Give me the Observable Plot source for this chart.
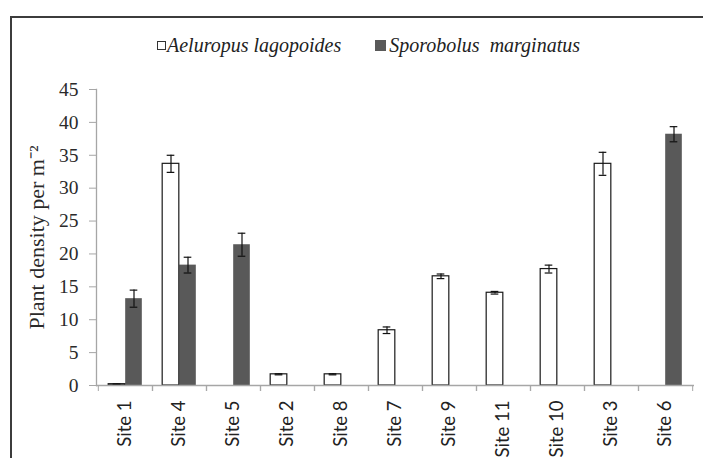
<!DOCTYPE html>
<html>
<head>
<meta charset="utf-8">
<script src="https://cdn.jsdelivr.net/npm/d3@7"></script>
<script src="https://cdn.jsdelivr.net/npm/@observablehq/plot@0.6"></script>
<style>
  html, body { margin: 0; padding: 0; background: #fff; }
  #wrap { position: relative; width: 703px; height: 458px; overflow: hidden; background: #fff; }
  #frame { position: absolute; left: 10px; top: 16px; width: 900px; height: 700px;
           border-left: 2px solid #3c3c3c; border-top: 2px solid #3c3c3c; z-index: 2; pointer-events: none; }
  #legend { position: absolute; left: 157px; top: 34px; z-index: 3; white-space: pre;
            font-family: "Liberation Serif", serif; font-style: italic; font-size: 20px; line-height: 22px; color: #222;
            display: flex; align-items: center; }
  .sw { display: inline-block; width: 9px; height: 9px; margin-right: 1px; box-sizing: border-box; }
  .sw.a { background: #fff; border: 1px solid #333; }
  .sw.b { background: #595959; width: 11px; height: 11px; margin-right: 3px; }
  .gap { display: inline-block; width: 34px; }
  #chart { position: absolute; left: 0; top: 0; z-index: 1; }
</style>
</head>
<body>
<div id="wrap">
  <div id="frame"></div>
  <div id="legend"><span class="sw a"></span><span>Aeluropus lagopoides</span><span class="gap"></span><span class="sw b"></span><span>Sporobolus  marginatus</span></div>
  <div id="chart"></div>
</div>
<script>
const sites = ["Site 1", "Site 4", "Site 5", "Site 2", "Site 8", "Site 7", "Site 9", "Site 11", "Site 10", "Site 3", "Site 6"];
const speciesNames = ["Aeluropus lagopoides", "Sporobolus marginatus"];
const aeluropus    = [0.2, 33.7, 0, 1.7, 1.7, 8.4, 16.6, 14.1, 17.7, 33.7, 0];
const aeluropusErr = [0.05, 1.3, 0, 0.08, 0.08, 0.5, 0.35, 0.2, 0.6, 1.75, 0];
const sporobolus    = [13.2, 18.3, 21.4, 0, 0, 0, 0, 0, 0, 0, 38.2];
const sporobolusErr = [1.3, 1.2, 1.75, 0, 0, 0, 0, 0, 0, 0, 1.15];
const yTicks = [0, 5, 10, 15, 20, 25, 30, 35, 40, 45];
const yTitle = "Plant density per m\u207B\u00B2";

const rowsA = sites.map((s, i) => ({site: s, value: aeluropus[i], err: aeluropusErr[i]})).filter(d => d.value > 0);
const rowsS = sites.map((s, i) => ({site: s, value: sporobolus[i], err: sporobolusErr[i]})).filter(d => d.value > 0);

const gray = "#a6a6a6";
const W = 703, ML = 96, MR = 9;
const step = (W - ML - MR) / sites.length;   // width of one site band
const bw = 17;                                // bar width
const outer = (step - 2 * bw) / 2;           // gap outside the bar pair
const cap = 8;                                // error-bar cap width
const capIn = outer + (bw - cap) / 2;

function series(rows, fill, stroke, left) {
  const inL = left ? outer : outer + bw;
  const inR = step - inL - bw;
  const cL = left ? capIn : capIn + bw;
  const cR = step - cL - cap;
  const dx = left ? -bw / 2 : bw / 2;
  return [
    Plot.barY(rows, {x: "site", y: "value", fill, stroke, strokeWidth: stroke ? 1.2 : 0, insetLeft: inL, insetRight: inR}),
    Plot.ruleX(rows, {x: "site", y1: d => d.value - d.err, y2: d => d.value + d.err, dx, stroke: "#111", strokeWidth: 1.2}),
    Plot.tickY(rows, {x: "site", y: d => d.value - d.err, insetLeft: cL, insetRight: cR, stroke: "#111", strokeWidth: 1.2}),
    Plot.tickY(rows, {x: "site", y: d => d.value + d.err, insetLeft: cL, insetRight: cR, stroke: "#111", strokeWidth: 1.2})
  ];
}

const chart = Plot.plot({
  width: W, height: 458,
  marginLeft: ML, marginRight: MR, marginTop: 89, marginBottom: 73,
  style: {background: "transparent"},
  x: {domain: sites, paddingInner: 0, paddingOuter: 0, axis: null},
  y: {domain: [0, 45], axis: null},
  marks: [
    ...series(rowsS, "#595959", null, false),
    ...series(rowsA, "white", "#1a1a1a", true),
    Plot.ruleY([0], {stroke: gray, strokeWidth: 1.3}),
    Plot.frame({anchor: "left", stroke: gray, strokeWidth: 1.3}),
    Plot.axisY({ticks: yTicks, tickSize: 7, tickPadding: 11, stroke: gray, fill: "#2a2a2a",
                fontSize: 19.5, fontFamily: "Liberation Serif", label: null}),
    Plot.axisY({ticks: [], tickSize: 0, label: yTitle, labelArrow: "none", labelAnchor: "center", labelOffset: 68,
                fontSize: 22, fontFamily: "Liberation Serif", fill: "#2a2a2a"}),
    Plot.axisX({anchor: "bottom", tickSize: 0, tickPadding: 15, tickRotate: -90,
                fontSize: 18.5, fontFamily: "Lato", fill: "#222", label: null}),
    Plot.axisX({anchor: "bottom", text: null, tickSize: 6, dx: -step / 2, stroke: gray, label: null}),
    Plot.axisX({anchor: "bottom", text: null, tickSize: 6, dx: step / 2, stroke: gray, label: null})
  ]
});
document.getElementById("chart").appendChild(chart);
</script>
</body>
</html>
